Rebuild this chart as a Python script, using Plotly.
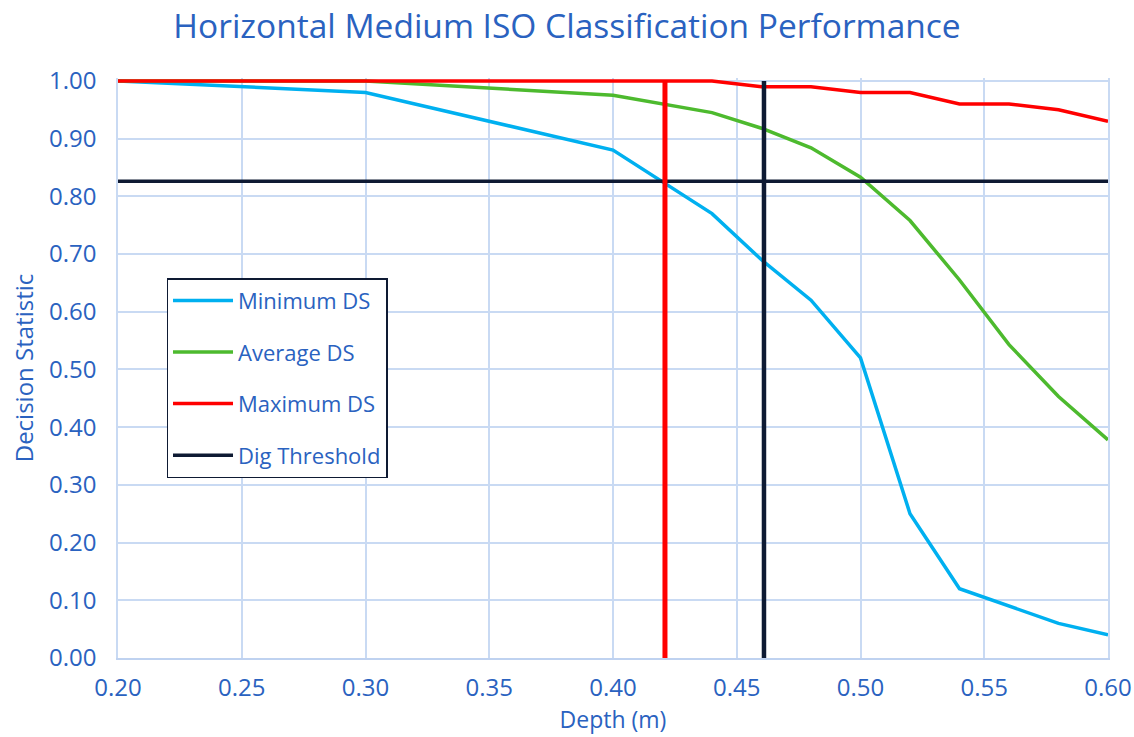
import plotly.graph_objects as go

depth = [0.20, 0.30, 0.40, 0.42, 0.44, 0.46, 0.48, 0.50, 0.52, 0.54, 0.56, 0.58, 0.60]
min_ds = [1.00, 0.98, 0.88, 0.825, 0.77, 0.69, 0.62, 0.52, 0.25, 0.12, 0.09, 0.06, 0.04]
avg_ds = [1.00, 1.00, 0.975, 0.96, 0.945, 0.918, 0.884, 0.833, 0.758, 0.655, 0.543, 0.453, 0.378]
max_ds = [1.00, 1.00, 1.00, 1.00, 1.00, 0.99, 0.99, 0.98, 0.98, 0.96, 0.96, 0.95, 0.93]
dig_threshold = 0.826
red_depth = 0.421
black_depth = 0.461
x_range = [0.20, 0.60]
y_range = [0.0, 1.0]

TXT = "#2A62C0"
FONT = "Open Sans"

fig = go.Figure()
fig.add_trace(go.Scatter(x=depth, y=min_ds, mode="lines", name="Minimum DS",
                         line=dict(color="#00B0F0", width=3.5), legendgroup="a"))
fig.add_trace(go.Scatter(x=depth, y=avg_ds, mode="lines", name="Average DS",
                         line=dict(color="#4DBA2E", width=3.5), legendgroup="b"))
fig.add_trace(go.Scatter(x=depth, y=max_ds, mode="lines", name="Maximum DS",
                         line=dict(color="#FF0000", width=3.5), legendgroup="c"))
fig.add_trace(go.Scatter(x=x_range, y=[dig_threshold, dig_threshold], mode="lines",
                         name="Dig Threshold", line=dict(color="#0E1A33", width=3.5),
                         legendgroup="d"))
fig.add_trace(go.Scatter(x=[red_depth, red_depth], y=y_range, mode="lines",
                         showlegend=False, line=dict(color="#FF0000", width=5)))
fig.add_trace(go.Scatter(x=[black_depth, black_depth], y=y_range, mode="lines",
                         showlegend=False, line=dict(color="#0E1A33", width=4.5)))

fig.update_layout(
    width=1134, height=737,
    paper_bgcolor="white", plot_bgcolor="white",
    margin=dict(l=118, r=26, t=78, b=79, autoexpand=False),
    font=dict(family=FONT, color=TXT, size=24),
    title=dict(text="Horizontal Medium ISO Classification Performance",
               x=567 / 1134, xref="container", xanchor="center",
               y=1 - 26 / 737, yref="container", yanchor="middle",
               font=dict(size=33.5, color=TXT, family=FONT)),
    legend=dict(x=0.049, y=0.655, xanchor="left", yanchor="top",
                bordercolor="#0E1A33", borderwidth=1.5, bgcolor="white",
                font=dict(size=22, color=TXT), tracegroupgap=20,
                itemwidth=60),
    showlegend=True,
)
fig.update_xaxes(range=x_range, dtick=0.05, tick0=0.2, tickformat=".2f",
                 showgrid=True, gridcolor="#C9DAF3", gridwidth=1.5,
                 showline=True, linecolor="#BFD2F0", linewidth=1.5,
                 zeroline=False, ticks="", ticklabelstandoff=7, automargin=False,
                 tickfont=dict(size=24),
                 title=dict(text="Depth (m)", standoff=10, font=dict(size=23, color=TXT)))
fig.update_yaxes(range=[0, 1.005], dtick=0.1, tick0=0, tickformat=".2f",
                 showgrid=True, gridcolor="#C9DAF3", gridwidth=1.5,
                 showline=True, linecolor="#C9DAF3", linewidth=1.5, mirror=True,
                 zeroline=False, ticks="", ticklabelstandoff=15, automargin=False,
                 tickfont=dict(size=24),
                 title=dict(text="Decision Statistic", standoff=9, font=dict(size=24, color=TXT)))

fig.write_html("out.html", config={"displayModeBar": False},
               post_script="document.body.style.margin='0';document.body.style.overflow='hidden';")
